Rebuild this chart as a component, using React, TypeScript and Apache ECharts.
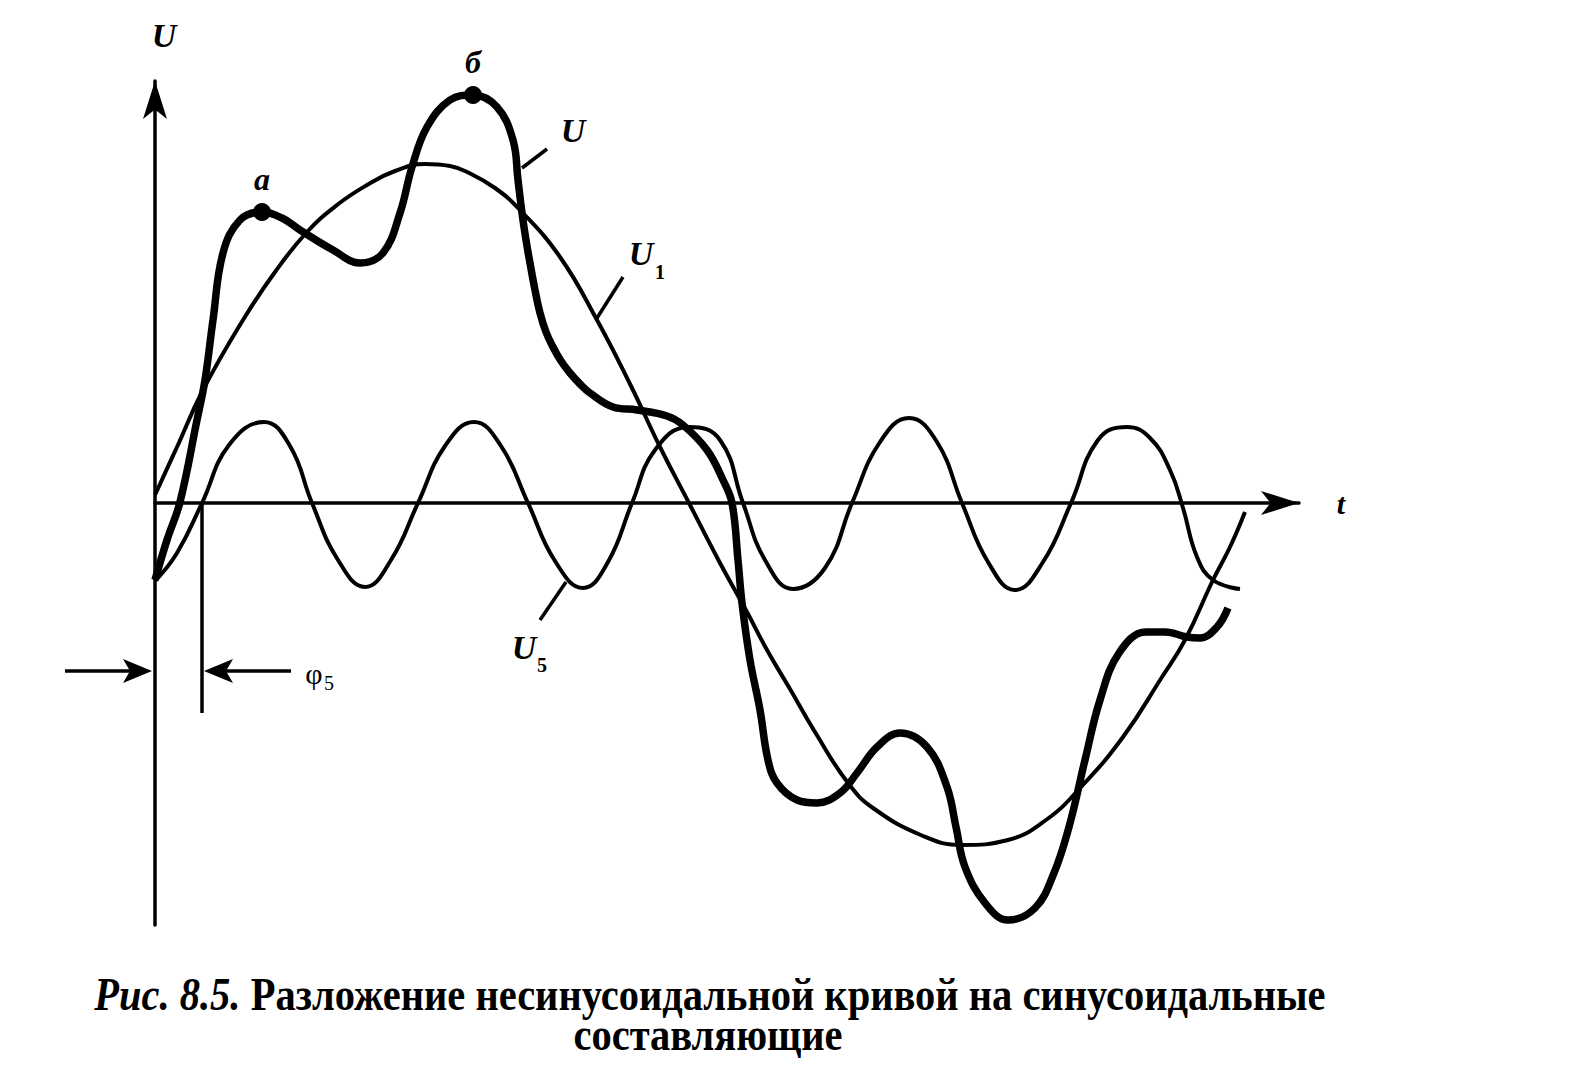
import React, { useEffect, useRef } from "react";
import * as echarts from "echarts";

// Time axis t and voltage axis U share one plotting scale (arbitrary units).
const T_MAX = 1144;
const U_MIN = -422;
const U_MAX = 422;

// First (fundamental) harmonic U1: [t, U]
const u1Points: number[][] = [
  [0, 8], [22, 56], [48, 113], [88, 183], [120, 231], [152, 271], [182, 298],
  [212, 318], [240, 332], [270, 339], [295, 337], [312, 331], [340, 315],
  [365, 293], [405, 246], [442, 183], [475, 119], [505, 56], [535, -2],
  [565, -60], [592, -109], [612, -147], [635, -186], [660, -229], [693, -280],
  [718, -305], [768, -333], [807, -342], [853, -337], [891, -317], [926, -284],
  [968, -234], [1007, -174], [1030, -137], [1058, -77], [1075, -44], [1090, -9],
];

// Fifth harmonic U5: [t, U]
const u5Points: number[][] = [
  [0, -78], [22, -50], [47, 0], [74, 58], [109, 81], [135, 57], [157, 0],
  [183, -57], [210, -84], [236, -57], [263, 0], [290, 57], [319, 81],
  [346, 57], [373, 0], [400, -58], [428, -85], [453, -59], [477, 0],
  [500, 53], [534, 76], [565, 63], [588, 0], [610, -57], [638, -86],
  [670, -65], [697, 0], [725, 61], [754, 85], [782, 61], [807, 0],
  [833, -59], [860, -87], [888, -59], [916, 0], [943, 63], [972, 76],
  [995, 65], [1015, 33], [1028, -5], [1042, -54], [1058, -77], [1085, -86],
];

// Resulting non-sinusoidal voltage U: [t, U]
const uPoints: number[][] = [
  [0, -77], [12, -37], [25, 1], [42, 83], [50, 123], [58, 183], [68, 250],
  [85, 283], [107, 291], [127, 285], [145, 273], [178, 253], [205, 240],
  [228, 250], [245, 290], [257, 336], [272, 376], [295, 403], [318, 408],
  [342, 396], [358, 363], [363, 323], [367, 290], [371, 263], [375, 240],
  [380, 213], [385, 190], [391, 171], [398, 156], [406, 142], [415, 130],
  [425, 119], [435, 110], [458, 96], [482, 93], [512, 87], [528, 78],
  [552, 53], [568, 23], [577, 0], [583, -57], [587, -100], [595, -157],
  [605, -207], [613, -257], [622, -280], [642, -297], [662, -300],
  [685, -290], [702, -270], [722, -244], [745, -230], [772, -244],
  [792, -284], [801, -324], [810, -364], [830, -400], [853, -417],
  [880, -405], [899, -370], [914, -324], [930, -257], [945, -197],
  [964, -150], [991, -129], [1010, -129], [1032, -134], [1045, -135],
  [1062, -124], [1073, -105],
];

// Marked extrema of U
const markedNames = ["а", "б"];
const markedPoints: number[][] = [
  [107, 291],
  [318, 408],
];

// Initial phase of the fifth harmonic (its first upward zero crossing)
const phi5 = 47;
const phiLevel = -168;
const phiDrop = -210;

const serifBI = {
  fontFamily: "Liberation Serif",
  fontStyle: "italic",
  fontWeight: "bold",
  fill: "#000",
};
const serifR = {
  fontFamily: "Liberation Serif",
  fontWeight: "normal",
  fill: "#000",
};

function arrowHead(tipX: number, tipY: number, dir: number) {
  // dir = +1 points right, -1 points left
  const len = 29;
  const half = 12;
  const notch = 22;
  return {
    type: "polygon",
    shape: {
      points: [
        [tipX, tipY],
        [tipX - dir * len, tipY - half],
        [tipX - dir * notch, tipY],
        [tipX - dir * len, tipY + half],
      ],
    },
    style: { fill: "#000" },
  };
}

export default function App() {
  const ref = useRef<HTMLDivElement>(null);

  useEffect(() => {
    if (!ref.current) return;
    const chart = echarts.init(ref.current, undefined, { renderer: "svg" });

    const thin = { color: "#000", width: 4 };
    const axisCommon = {
      type: "value" as const,
      axisTick: { show: false },
      axisLabel: { show: false },
      splitLine: { show: false },
    };

    chart.setOption({
      animation: false,
      backgroundColor: "#fff",
      grid: { left: 155, top: 81, width: T_MAX, height: U_MAX - U_MIN },
      xAxis: {
        ...axisCommon,
        min: 0,
        max: T_MAX,
        axisLine: {
          show: true,
          onZero: true,
          symbol: ["none", "arrow"],
          symbolSize: [18, 38],
          lineStyle: { color: "#000", width: 3.5 },
        },
      },
      yAxis: {
        ...axisCommon,
        min: U_MIN,
        max: U_MAX,
        axisLine: {
          show: true,
          onZero: false,
          symbol: ["none", "arrow"],
          symbolSize: [18, 38],
          lineStyle: { color: "#000", width: 3.5 },
        },
      },
      series: [
        {
          name: "U1",
          type: "line",
          data: u1Points,
          smooth: 0.45,
          showSymbol: false,
          lineStyle: thin,
          z: 2,
        },
        {
          name: "U5",
          type: "line",
          data: u5Points,
          smooth: 0.45,
          showSymbol: false,
          lineStyle: thin,
          z: 2,
        },
        {
          name: "U",
          type: "line",
          data: uPoints,
          smooth: 0.4,
          showSymbol: false,
          lineStyle: { color: "#000", width: 7.5 },
          z: 3,
        },
        {
          name: "points",
          type: "scatter",
          data: markedPoints.map((p, i) => ({ name: markedNames[i], value: p })),
          symbolSize: 18,
          itemStyle: { color: "#000", opacity: 1 },
          z: 4,
          label: {
            show: true,
            formatter: "{b}",
            position: "top",
            distance: 8,
            color: "#000",
            fontFamily: "Liberation Serif",
            fontStyle: "italic",
            fontWeight: "bold",
            fontSize: 32,
          },
        },
      ],
    });

    // Phase construction for U5 and curve labels
    const o = chart.convertToPixel({ gridIndex: 0 }, [0, phiLevel]) as number[];
    const c = chart.convertToPixel({ gridIndex: 0 }, [phi5, phiLevel]) as number[];
    const top = chart.convertToPixel({ gridIndex: 0 }, [phi5, 0]) as number[];
    const bottom = chart.convertToPixel({ gridIndex: 0 }, [phi5, phiDrop]) as number[];
    const y = o[1];

    chart.setOption({
      graphic: [
        { type: "line", shape: { x1: top[0], y1: top[1], x2: bottom[0], y2: bottom[1] }, style: { stroke: "#000", lineWidth: 3.5 } },
        { type: "line", shape: { x1: 65, y1: y, x2: o[0] - 20, y2: y }, style: { stroke: "#000", lineWidth: 3.5 } },
        arrowHead(o[0] - 3, y, 1),
        { type: "line", shape: { x1: c[0] + 20, y1: y, x2: 291, y2: y }, style: { stroke: "#000", lineWidth: 3.5 } },
        arrowHead(c[0] + 2, y, -1),
        { type: "text", x: 314, y: 673, style: { ...serifR, text: "φ", fontSize: 30, textAlign: "center", textVerticalAlign: "middle" } },
        { type: "text", x: 329, y: 683, style: { ...serifR, text: "5", fontSize: 20, textAlign: "center", textVerticalAlign: "middle" } },

        // axis names
        { type: "text", x: 164, y: 35, style: { ...serifBI, text: "U", fontSize: 34, textAlign: "center", textVerticalAlign: "middle" } },
        { type: "text", x: 1341, y: 503, style: { ...serifBI, text: "t", fontSize: 30, textAlign: "center", textVerticalAlign: "middle" } },

        // curve labels with leaders
        { type: "line", shape: { x1: 522, y1: 168, x2: 547, y2: 149 }, style: { stroke: "#000", lineWidth: 3.5 } },
        { type: "text", x: 573, y: 130, style: { ...serifBI, text: "U", fontSize: 34, textAlign: "center", textVerticalAlign: "middle" } },
        { type: "line", shape: { x1: 597, y1: 318, x2: 623, y2: 277 }, style: { stroke: "#000", lineWidth: 3.5 } },
        { type: "text", x: 641, y: 253, style: { ...serifBI, text: "U", fontSize: 34, textAlign: "center", textVerticalAlign: "middle" } },
        { type: "text", x: 660, y: 272, style: { ...serifR, text: "1", fontWeight: "bold", fontSize: 20, textAlign: "center", textVerticalAlign: "middle" } },
        { type: "line", shape: { x1: 540, y1: 620, x2: 566, y2: 582 }, style: { stroke: "#000", lineWidth: 3.5 } },
        { type: "text", x: 524, y: 647, style: { ...serifBI, text: "U", fontSize: 34, textAlign: "center", textVerticalAlign: "middle" } },
        { type: "text", x: 542, y: 665, style: { ...serifR, text: "5", fontWeight: "bold", fontSize: 20, textAlign: "center", textVerticalAlign: "middle" } },

        // caption
        {
          type: "text",
          x: 710,
          y: 994,
          scaleX: 0.88,
          style: {
            text: "{b|Рис. 8.5. }{r|Разложение несинусоидальной кривой на синусоидальные}",
            textAlign: "center",
            textVerticalAlign: "middle",
            rich: {
              b: { fontFamily: "Liberation Serif", fontStyle: "italic", fontWeight: "bold", fontSize: 46, fill: "#000" },
              r: { fontFamily: "Liberation Serif", fontWeight: "bold", fontSize: 46, fill: "#000" },
            },
          },
        },
        {
          type: "text",
          x: 708,
          y: 1034,
          scaleX: 0.88,
          style: {
            text: "составляющие",
            fontFamily: "Liberation Serif",
            fontWeight: "bold",
            fontSize: 46,
            fill: "#000",
            textAlign: "center",
            textVerticalAlign: "middle",
          },
        },
      ],
    });

    return () => chart.dispose();
  }, []);

  return (
    <div
      ref={ref}
      style={{ position: "fixed", left: 0, top: 0, width: 1576, height: 1090, background: "#fff" }}
    />
  );
}
